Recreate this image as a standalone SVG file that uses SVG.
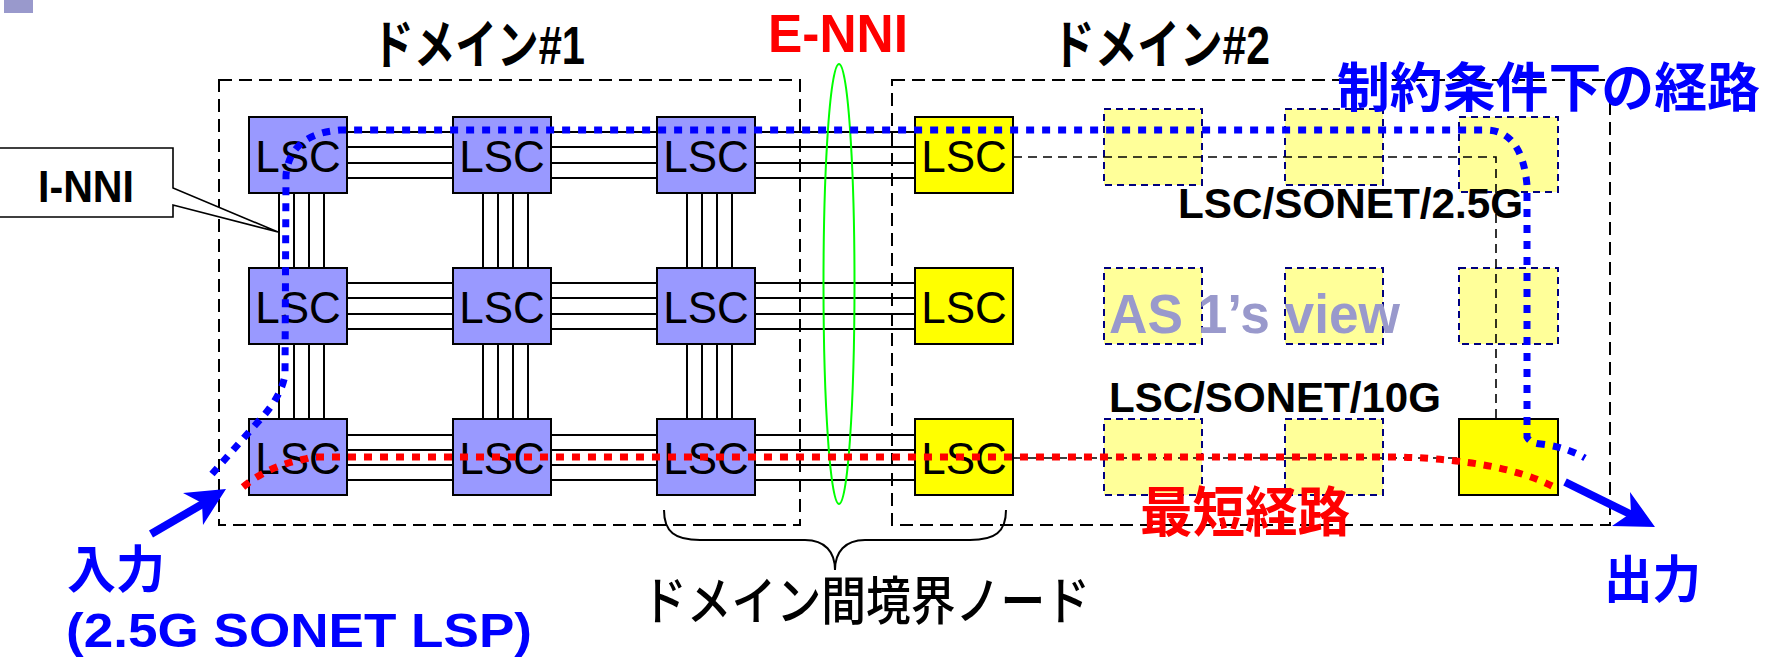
<svg xmlns="http://www.w3.org/2000/svg" width="1765" height="657" viewBox="0 0 1765 657">
<defs>
<style>
.dom{fill:none;stroke:#000;stroke-width:2;stroke-dasharray:13 7}
.lsc{fill:#9999ff;stroke:#000;stroke-width:2}
.ylw{fill:#ffff00;stroke:#000;stroke-width:2}
.ghost{fill:#ffff99;stroke:#000080;stroke-width:2;stroke-dasharray:7 5}
.thin{fill:none;stroke:#000;stroke-width:1.6;stroke-dasharray:9 6}
.link line{stroke:#000;stroke-width:2}
.lbl{font-family:"Liberation Sans",Arial,sans-serif;font-size:44px;text-anchor:middle;fill:#000}
.jp{font-family:"Liberation Sans","Noto Sans CJK JP",sans-serif}
.b{font-weight:bold}
.blue{fill:#0000ff}
.red{fill:#ff0000}
.dotB{fill:none;stroke:#0000ff;stroke-width:7;stroke-dasharray:8 8}
.dotR{fill:none;stroke:#ff0000;stroke-width:7;stroke-dasharray:8 8}
</style>
</defs>
<rect width="1765" height="657" fill="#fff"/>
<rect x="4" y="0" width="29" height="13" fill="#9999cc"/>

<!-- domains -->
<g id="domain1"><rect class="dom" x="219" y="80" width="581" height="445"/></g>
<g id="domain2"><rect class="dom" x="892" y="80" width="718" height="445"/></g>

<!-- ghost nodes (AS 1's view) -->
<g id="ghosts">
<rect class="ghost" x="1104" y="109" width="98" height="76"/>
<rect class="ghost" x="1285" y="109" width="98" height="76"/>
<rect class="ghost" x="1459" y="117" width="99" height="75"/>
<rect class="ghost" x="1104" y="268" width="98" height="76"/>
<rect class="ghost" x="1285" y="268" width="98" height="76"/>
<rect class="ghost" x="1459" y="268" width="99" height="76"/>
<rect class="ghost" x="1104" y="419" width="98" height="76"/>
<rect class="ghost" x="1285" y="419" width="98" height="76"/>
</g>

<!-- connectors -->
<g id="connectors">
<path class="thin" d="M1013,157 H1496 V419"/>
<path class="thin" d="M1013,458 H1459"/>
<g class="link">
<!-- row 1 horizontal -->
<line x1="347" y1="132" x2="453" y2="132"/><line x1="347" y1="147" x2="453" y2="147"/><line x1="347" y1="163" x2="453" y2="163"/><line x1="347" y1="178" x2="453" y2="178"/>
<line x1="551" y1="132" x2="657" y2="132"/><line x1="551" y1="147" x2="657" y2="147"/><line x1="551" y1="163" x2="657" y2="163"/><line x1="551" y1="178" x2="657" y2="178"/>
<line x1="755" y1="132" x2="915" y2="132"/><line x1="755" y1="147" x2="915" y2="147"/><line x1="755" y1="163" x2="915" y2="163"/><line x1="755" y1="178" x2="915" y2="178"/>
<!-- row 2 horizontal -->
<line x1="347" y1="283" x2="453" y2="283"/><line x1="347" y1="298" x2="453" y2="298"/><line x1="347" y1="314" x2="453" y2="314"/><line x1="347" y1="329" x2="453" y2="329"/>
<line x1="551" y1="283" x2="657" y2="283"/><line x1="551" y1="298" x2="657" y2="298"/><line x1="551" y1="314" x2="657" y2="314"/><line x1="551" y1="329" x2="657" y2="329"/>
<line x1="755" y1="283" x2="915" y2="283"/><line x1="755" y1="298" x2="915" y2="298"/><line x1="755" y1="314" x2="915" y2="314"/><line x1="755" y1="329" x2="915" y2="329"/>
<!-- row 3 horizontal -->
<line x1="347" y1="435" x2="453" y2="435"/><line x1="347" y1="450" x2="453" y2="450"/><line x1="347" y1="465" x2="453" y2="465"/><line x1="347" y1="480" x2="453" y2="480"/>
<line x1="551" y1="435" x2="657" y2="435"/><line x1="551" y1="450" x2="657" y2="450"/><line x1="551" y1="465" x2="657" y2="465"/><line x1="551" y1="480" x2="657" y2="480"/>
<line x1="755" y1="435" x2="915" y2="435"/><line x1="755" y1="450" x2="915" y2="450"/><line x1="755" y1="465" x2="915" y2="465"/><line x1="755" y1="480" x2="915" y2="480"/>
<!-- vertical col 1 -->
<line x1="279" y1="193" x2="279" y2="268"/><line x1="294" y1="193" x2="294" y2="268"/><line x1="309" y1="193" x2="309" y2="268"/><line x1="324" y1="193" x2="324" y2="268"/>
<line x1="279" y1="344" x2="279" y2="419"/><line x1="294" y1="344" x2="294" y2="419"/><line x1="309" y1="344" x2="309" y2="419"/><line x1="324" y1="344" x2="324" y2="419"/>
<!-- vertical col 2 -->
<line x1="483" y1="193" x2="483" y2="268"/><line x1="498" y1="193" x2="498" y2="268"/><line x1="513" y1="193" x2="513" y2="268"/><line x1="528" y1="193" x2="528" y2="268"/>
<line x1="483" y1="344" x2="483" y2="419"/><line x1="498" y1="344" x2="498" y2="419"/><line x1="513" y1="344" x2="513" y2="419"/><line x1="528" y1="344" x2="528" y2="419"/>
<!-- vertical col 3 -->
<line x1="687" y1="193" x2="687" y2="268"/><line x1="702" y1="193" x2="702" y2="268"/><line x1="717" y1="193" x2="717" y2="268"/><line x1="732" y1="193" x2="732" y2="268"/>
<line x1="687" y1="344" x2="687" y2="419"/><line x1="702" y1="344" x2="702" y2="419"/><line x1="717" y1="344" x2="717" y2="419"/><line x1="732" y1="344" x2="732" y2="419"/>
</g>
<ellipse cx="839" cy="284" rx="15.5" ry="220" fill="none" stroke="#00ff00" stroke-width="2"/>
</g>

<!-- nodes -->
<g id="n11"><rect class="lsc" x="249" y="117" width="98" height="76"/><text class="lbl" x="298" y="172">LSC</text></g>
<g id="n12"><rect class="lsc" x="453" y="117" width="98" height="76"/><text class="lbl" x="502" y="172">LSC</text></g>
<g id="n13"><rect class="lsc" x="657" y="117" width="98" height="76"/><text class="lbl" x="706" y="172">LSC</text></g>
<g id="n14"><rect class="ylw" x="915" y="117" width="98" height="76"/><text class="lbl" x="964" y="172">LSC</text></g>
<g id="n21"><rect class="lsc" x="249" y="268" width="98" height="76"/><text class="lbl" x="298" y="323">LSC</text></g>
<g id="n22"><rect class="lsc" x="453" y="268" width="98" height="76"/><text class="lbl" x="502" y="323">LSC</text></g>
<g id="n23"><rect class="lsc" x="657" y="268" width="98" height="76"/><text class="lbl" x="706" y="323">LSC</text></g>
<g id="n24"><rect class="ylw" x="915" y="268" width="98" height="76"/><text class="lbl" x="964" y="323">LSC</text></g>
<g id="n31"><rect class="lsc" x="249" y="419" width="98" height="76"/><text class="lbl" x="298" y="474">LSC</text></g>
<g id="n32"><rect class="lsc" x="453" y="419" width="98" height="76"/><text class="lbl" x="502" y="474">LSC</text></g>
<g id="n33"><rect class="lsc" x="657" y="419" width="98" height="76"/><text class="lbl" x="706" y="474">LSC</text></g>
<g id="n34"><rect class="ylw" x="915" y="419" width="98" height="76"/><text class="lbl" x="964" y="474">LSC</text></g>
<g id="exit"><rect class="ylw" x="1459" y="419" width="99" height="76"/></g>

<!-- I-NNI callout -->
<g id="inni">
<polygon points="-2,148 173,148 173,188 278,232 173,205 173,217 -2,217" fill="#fff" stroke="#000" stroke-width="1.6"/>
<text class="jp b" x="38" y="202" font-size="44" textLength="96" lengthAdjust="spacingAndGlyphs">I-NNI</text>
</g>

<!-- paths -->
<g id="paths">
<path class="dotR" d="M243,487 Q268,466 305,459 L312,457 H1400 Q1500,460 1552,486"/>
<path class="dotB" d="M212,474 L257,423 Q281,398 285,375 L286,175 Q290,134 340,130 L1488,130 Q1522,132 1527,185 L1527,437 Q1530,443 1541,444 Q1566,447 1585,458"/>
</g>

<!-- arrows -->
<g id="arrows" fill="#0000ff">
<line x1="151" y1="534" x2="206" y2="502" stroke="#0000ff" stroke-width="8"/>
<polygon points="226,489 183,493 202,503 203,525"/>
<line x1="1565" y1="482" x2="1632" y2="515" stroke="#0000ff" stroke-width="8"/>
<polygon points="1655,527 1630,492 1631,513 1612,526"/>
</g>

<!-- brace -->
<path id="brace" d="M664,510 C664,532 675,540 700,540 L805,540 C825,540 835,552 835,570 C835,552 845,540 865,540 L970,540 C995,540 1006,532 1006,510" fill="none" stroke="#000" stroke-width="2"/>

<!-- labels -->
<g id="labels">
<text class="jp b" x="372" y="64" font-size="53" textLength="213" lengthAdjust="spacingAndGlyphs">ドメイン#1</text>
<text class="jp b" x="1052" y="64" font-size="53" textLength="218" lengthAdjust="spacingAndGlyphs">ドメイン#2</text>
<text class="jp b red" x="768" y="52" font-size="54" textLength="140" lengthAdjust="spacingAndGlyphs">E-NNI</text>
<text class="jp b blue" x="1337" y="107" font-size="53" textLength="423" lengthAdjust="spacingAndGlyphs">制約条件下の経路</text>
<text class="jp b" x="1178" y="218" font-size="42" textLength="345" lengthAdjust="spacingAndGlyphs">LSC/SONET/2.5G</text>
<text class="jp b" x="1109" y="333" font-size="55" fill="#9999cc" textLength="291" lengthAdjust="spacingAndGlyphs">AS 1’s view</text>
<text class="jp b" x="1109" y="412" font-size="42" textLength="332" lengthAdjust="spacingAndGlyphs">LSC/SONET/10G</text>
<text class="jp b red" x="1140" y="532" font-size="54" textLength="210" lengthAdjust="spacingAndGlyphs">最短経路</text>
<text class="jp b blue" x="67" y="588" font-size="51" textLength="98" lengthAdjust="spacingAndGlyphs">入力</text>
<text class="jp b blue" x="66" y="647" font-size="49" textLength="466" lengthAdjust="spacingAndGlyphs">(2.5G SONET LSP)</text>
<text class="jp b blue" x="1604" y="598" font-size="51" textLength="97" lengthAdjust="spacingAndGlyphs">出力</text>
<text class="jp" x="642" y="620" font-size="52" font-weight="500" textLength="448" lengthAdjust="spacingAndGlyphs">ドメイン間境界ノード</text>
</g>
</svg>
